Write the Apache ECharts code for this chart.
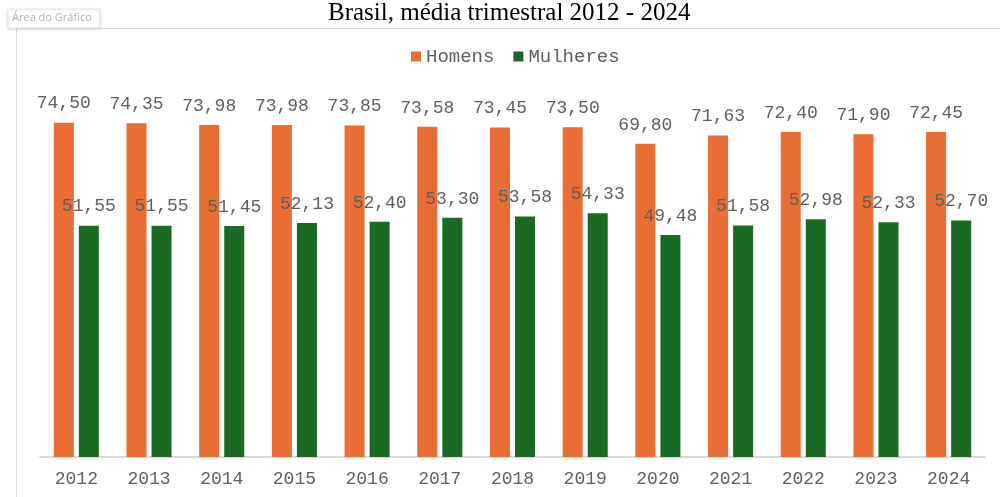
<!DOCTYPE html>
<html><head><meta charset="utf-8">
<script src="https://cdn.jsdelivr.net/npm/echarts@6/dist/echarts.min.js"></script>
<style>html,body{margin:0;padding:0;background:#fff}#c{width:1000px;height:497px}</style>
</head><body><div id="c"></div>
<script>
var categories = ['2012','2013','2014','2015','2016','2017','2018','2019','2020','2021','2022','2023','2024'];
var homens = [74.50, 74.35, 73.98, 73.98, 73.85, 73.58, 73.45, 73.50, 69.80, 71.63, 72.40, 71.90, 72.45];
var mulheres = [51.55, 51.55, 51.45, 52.13, 52.40, 53.30, 53.58, 54.33, 49.48, 51.58, 52.98, 52.33, 52.70];
var titleText = 'Brasil, média trimestral 2012 - 2024';

var chart = echarts.init(document.getElementById('c'), null, {renderer:'canvas'});
var fmt = function(p){ return p.value.toFixed(2).replace('.', ','); };
var mono = '"Liberation Mono", "Courier New", monospace';
var labelStyle = {show:true, position:'top', distance:10, formatter:fmt, fontFamily:mono, fontSize:18, color:'#5f5f5f'};
chart.setOption({
  animation:false,
  title:{text:titleText, left:328, top:0, padding:[1,0,0,0],
    textStyle:{fontFamily:'"Liberation Serif", "Times New Roman", serif', fontWeight:'normal', fontSize:25, color:'#000'}},
  legend:{top:47, left:411, padding:0, itemWidth:10, itemHeight:10, itemGap:19, icon:'rect',
    textStyle:{fontFamily:mono, fontSize:19, color:'#5f5f5f'},
    data:['Homens','Mulheres']},
  graphic:[
    {type:'line', shape:{x1:16.5,y1:28,x2:16.5,y2:497}, style:{stroke:'#d9d9d9', lineWidth:1}},
    {type:'line', shape:{x1:16,y1:28.5,x2:1000,y2:28.5}, style:{stroke:'#d9d9d9', lineWidth:1}},
    {type:'rect', shape:{x:8,y:9,width:92,height:19}, style:{fill:'#fff', stroke:'#e6e6e6', lineWidth:1, shadowBlur:3, shadowColor:'rgba(0,0,0,0.15)', shadowOffsetY:1}},
    {type:'text', left:12, top:12, style:{text:'Área do Gráfico', fontFamily:'"Open Sans", "Noto Sans", sans-serif', fontSize:11, fill:'#b0b0b0'}}
  ],
  grid:{left:40, right:15, top:98, bottom:40, containLabel:false},
  xAxis:{type:'category', data:categories,
    axisLine:{lineStyle:{color:'#d9d9d9', width:2}}, axisTick:{show:false},
    axisLabel:{fontFamily:mono, fontSize:18, color:'#5f5f5f', margin:13}},
  yAxis:{type:'value', min:0, max:80, show:false, splitLine:{show:false}},
  series:[
    {name:'Homens', type:'bar', data:homens, barGap:'25%', barCategoryGap:'38%', itemStyle:{color:'#E96E35'}, label:labelStyle},
    {name:'Mulheres', type:'bar', data:mulheres, itemStyle:{color:'#1B6A23'}, label:labelStyle}
  ]
});
</script></body></html>
